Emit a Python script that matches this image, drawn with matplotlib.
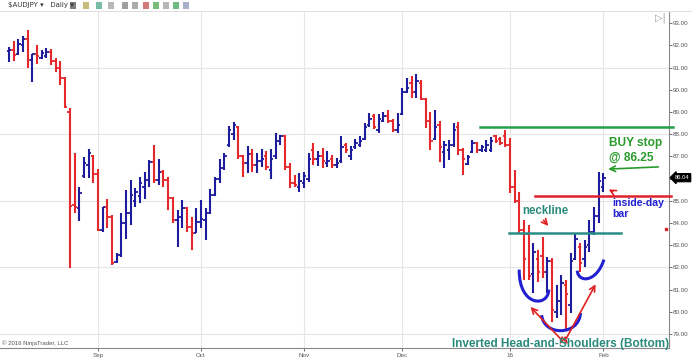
import matplotlib
matplotlib.use('Agg')
import matplotlib.pyplot as plt
from matplotlib.path import Path
from matplotlib.patches import PathPatch, Rectangle
from matplotlib.lines import Line2D

plt.rcParams['font.family'] = ['Liberation Sans', 'DejaVu Sans']

# daily AUDJPY bars, Aug 2015 - Feb 2016
opens = [91.75, 91.80, 91.60, 92.00, 92.30, 91.33, 91.60, 91.45, 91.50, 91.70,
         91.30, 91.00, 90.54, 88.98, 84.80, 84.66, 86.10, 86.60, 87.00, 86.20,
         83.70, 84.70, 84.25, 82.25, 82.56, 84.00, 84.46, 85.00, 85.20, 85.60,
         85.93, 86.76, 85.93, 86.31, 85.93, 85.11, 84.13, 84.28, 84.66, 83.83,
         83.56, 84.06, 84.13, 84.43, 85.26, 86.00, 86.46, 87.50, 88.00, 88.30,
         87.00, 86.70, 87.10, 86.60, 86.80, 87.00, 86.40, 87.00, 87.70, 87.90,
         86.50, 85.80, 85.60, 85.80, 86.00, 87.30, 86.90, 87.00, 86.70, 86.90,
         86.60, 86.80, 87.50, 87.00, 87.40, 87.50, 87.80, 88.40, 88.80, 88.20,
         88.60, 88.80, 88.60, 88.20, 88.90, 89.90, 90.30, 89.90, 90.30, 89.60,
         88.60, 87.80, 88.40, 87.20, 87.30, 87.50, 88.30, 87.30, 86.65, 87.20,
         87.60, 87.30, 87.30, 87.30, 87.90, 87.80, 87.90, 87.50, 85.60, 85.00,
         83.70, 83.50, 81.70, 82.40, 82.50, 81.80, 82.30, 80.00, 80.50, 81.20,
         80.30, 82.40, 82.90, 82.40, 83.00, 83.60, 84.30, 85.60]
highs = [91.93, 92.20, 92.28, 92.41, 92.68, 91.63, 92.00, 91.78, 91.86, 91.83,
         91.44, 91.29, 90.58, 89.16, 87.15, 85.63, 86.95, 87.31, 87.06, 86.41,
         84.73, 85.10, 84.36, 82.63, 84.43, 85.48, 85.93, 85.56, 86.08, 86.31,
         86.83, 87.51, 86.86, 86.38, 86.08, 85.18, 84.58, 85.03, 84.73, 84.28,
         84.66, 85.03, 84.66, 85.51, 86.08, 86.86, 87.16, 88.35, 88.56, 88.36,
         87.06, 87.46, 87.31, 87.16, 87.31, 87.25, 87.31, 88.06, 87.96, 87.95,
         86.68, 86.16, 86.23, 86.31, 87.16, 87.58, 87.25, 87.36, 87.25, 87.06,
         86.91, 87.91, 87.58, 87.46, 87.76, 87.91, 88.51, 88.96, 88.90, 88.90,
         89.00, 89.08, 88.66, 88.93, 90.06, 90.51, 90.62, 90.71, 90.44, 89.61,
         89.01, 89.08, 88.60, 87.70, 87.73, 88.48, 88.56, 87.36, 87.06, 87.73,
         87.66, 87.51, 87.73, 87.88, 87.96, 87.88, 88.18, 87.81, 86.38, 85.41,
         84.13, 83.90, 83.08, 82.78, 83.38, 82.48, 82.41, 81.21, 81.66, 81.43,
         82.63, 83.53, 83.08, 83.23, 84.13, 84.73, 86.31, 86.23]
lows = [91.26, 91.30, 91.56, 91.71, 90.96, 90.33, 91.14, 91.40, 91.44, 91.11,
        90.81, 90.21, 89.19, 81.95, 84.45, 84.10, 86.01, 86.01, 85.78, 83.65,
        83.60, 83.76, 82.10, 82.18, 82.48, 83.30, 83.90, 84.73, 84.88, 85.10,
        85.63, 85.78, 85.71, 85.63, 84.58, 83.98, 82.93, 83.76, 83.60, 82.78,
        83.53, 83.76, 83.23, 84.40, 85.20, 85.78, 86.38, 87.43, 87.74, 86.90,
        86.05, 86.26, 86.31, 86.26, 86.53, 86.38, 85.96, 86.90, 87.51, 86.38,
        85.56, 85.63, 85.41, 85.56, 85.86, 86.61, 86.56, 86.46, 86.53, 86.46,
        86.46, 86.68, 87.13, 86.83, 87.31, 87.40, 87.73, 88.33, 88.21, 88.03,
        88.56, 88.48, 88.11, 88.03, 88.86, 89.84, 89.61, 89.61, 89.54, 88.26,
        87.28, 87.73, 86.76, 86.46, 86.83, 87.40, 87.06, 86.16, 86.61, 87.13,
        87.13, 87.21, 87.21, 87.21, 87.58, 87.51, 87.43, 85.33, 84.88, 83.53,
        81.43, 81.43, 80.83, 81.36, 81.51, 80.83, 79.55, 79.70, 79.85, 79.18,
        79.93, 82.35, 81.81, 82.03, 82.71, 83.46, 83.98, 85.41]
closes = [91.80, 91.56, 92.08, 92.28, 91.33, 91.60, 91.50, 91.65, 91.70, 91.29,
          90.96, 90.54, 89.23, 84.75, 84.70, 85.36, 86.68, 87.13, 86.20, 83.68,
          84.70, 84.25, 82.18, 82.56, 84.01, 84.46, 85.26, 85.40, 85.78, 85.93,
          86.76, 85.93, 86.31, 85.93, 85.11, 84.13, 84.28, 84.66, 83.83, 83.56,
          84.06, 84.20, 84.43, 85.26, 86.00, 86.46, 87.00, 88.20, 88.40, 87.00,
          86.70, 87.10, 86.60, 86.80, 86.90, 86.50, 86.90, 87.70, 87.90, 86.50,
          85.80, 85.70, 85.90, 86.10, 86.90, 86.90, 87.00, 86.80, 86.80, 86.60,
          86.70, 87.40, 87.30, 87.30, 87.60, 87.70, 88.30, 88.70, 88.30, 88.70,
          88.80, 88.60, 88.20, 88.40, 89.90, 90.10, 89.90, 90.40, 89.60, 88.60,
          87.70, 88.30, 87.40, 87.50, 87.50, 88.20, 87.30, 86.90, 86.95, 87.60,
          87.30, 87.40, 87.50, 87.70, 87.70, 87.60, 87.50, 85.60, 85.00, 83.70,
          82.40, 81.60, 82.70, 81.80, 81.80, 82.30, 80.10, 80.50, 81.30, 80.80,
          82.30, 83.30, 82.20, 82.90, 83.60, 84.30, 85.90, 86.04]

month_labels = ['Sep', 'Oct', 'Nov', 'Dec', '16', 'Feb']
month_bars = [19, 41, 63, 84, 107, 127]
price_ticks = [79, 80, 81, 82, 83, 84, 85, 86, 87, 88, 89, 90, 91, 92, 93]
grid_prices = [79, 82, 85, 88, 91]

# levels drawn on the chart
buy_level = 88.3
inside_high = 85.22
neckline = 83.53
last_price = 86.04

UP = '#1c1c9c'
DOWN = '#e4282c'
TEAL = '#2a8a7c'
GREEN = '#2a9a2a'
BLUE = '#2020d0'

fig = plt.figure(figsize=(6.92, 3.61), dpi=100)
ax = fig.add_axes([0, 13 / 361, 669 / 692, 336 / 361])

# grid
for p in grid_prices:
    ax.axhline(p, color='#e6e6e6', lw=0.8, zorder=0)
for m in month_bars:
    ax.axvline(m, color='#e6e6e6', lw=0.8, zorder=0)

# OHLC bars
for i in range(len(opens)):
    c = UP if closes[i] >= opens[i] else DOWN
    ax.vlines(i, lows[i], highs[i], color=c, lw=1.5, zorder=3)
    ax.hlines(opens[i], i - 0.5, i, color=c, lw=1.3, zorder=3)
    ax.hlines(closes[i], i, i + 0.5, color=c, lw=1.3, zorder=3)

# horizontal levels
ax.plot([100.6, 141.8], [buy_level, buy_level], color='#24a04a', lw=1.8, clip_on=False, zorder=4)
ax.plot([112.4, 141.4], [inside_high, inside_high], color='#e0202a', lw=1.8, clip_on=False, zorder=4)
ax.plot([106.8, 130.8], [neckline, neckline], color='#2a8c86', lw=1.8, zorder=4)

# shoulders and head
def bezier(pts):
    path = Path(pts, [Path.MOVETO, Path.CURVE4, Path.CURVE4, Path.CURVE4])
    ax.add_patch(PathPatch(path, fc='none', ec=BLUE, lw=2.2, zorder=5))

bezier([(109.0, 81.9), (108.9, 80.2), (115.3, 80.2), (115.3, 81.0)])
bezier([(113.8, 79.85), (114.2, 78.9), (121.8, 78.9), (122.1, 79.95)])
bezier([(121.4, 81.85), (121.6, 81.3), (125.5, 81.3), (127.1, 82.35)])

arrow_red = dict(arrowstyle='->', color='#e02020', lw=1.2)
ax.annotate('', xy=(111.0, 80.31), xytext=(118.2, 78.7), arrowprops=arrow_red, zorder=6)
ax.annotate('', xy=(125.6, 81.35), xytext=(118.8, 78.7), arrowprops=arrow_red, zorder=6)
ax.annotate('', xy=(118.0, 79.05), xytext=(118.3, 78.7), arrowprops=dict(arrowstyle='->', color='#e02020', lw=1.0))
ax.annotate('', xy=(119.0, 79.05), xytext=(118.7, 78.7), arrowprops=dict(arrowstyle='->', color='#e02020', lw=1.0))
ax.annotate('', xy=(115.6, 83.77), xytext=(113.8, 84.22), arrowprops=arrow_red)
ax.annotate('', xy=(127.6, 85.57), xytext=(129.5, 85.35), arrowprops=arrow_red)
ax.annotate('', xy=(127.4, 86.42), xytext=(139.3, 86.53),
            arrowprops=dict(arrowstyle='->', color=GREEN, lw=1.2))

# labels
ax.text(109.6, 84.54, 'neckline', color=TEAL, fontsize=8.3, fontweight='bold', va='center')
ax.text(128.2, 87.26, 'BUY stop\n@ 86.25', color=GREEN, fontsize=8.6, fontweight='bold',
        va='center', linespacing=1.25)
ax.text(128.8, 84.66, 'inside-day\nbar', color=BLUE, fontsize=7.6, fontweight='bold',
        va='center', linespacing=1.05)
ax.text(94.7, 78.55, 'Inverted Head-and-Shoulders (Bottom)', color=TEAL, fontsize=8.5,
        fontweight='bold', va='center', zorder=7)
ax.plot([140.4], [83.73], marker='s', ms=1.5, color='#e02020', clip_on=False)

# last price tag
ax.annotate(f'{last_price:.2f}', xy=(1.0, last_price), xycoords=('axes fraction', 'data'),
            xytext=(4, 0), textcoords='offset points', fontsize=4.2, color='white',
            va='center', ha='left', annotation_clip=False,
            bbox=dict(boxstyle='larrow,pad=0.25', fc='black', ec='black'))

ax.set_xlim(-1.92, 141.0)
ax.set_ylim(78.37, 93.5)

ax.yaxis.tick_right()
ax.set_yticks(price_ticks)
ax.set_yticklabels([f'{p:.2f}' for p in price_ticks])
ax.set_xticks(month_bars)
ax.set_xticklabels(month_labels)
ax.tick_params(axis='y', labelsize=4.5, colors='#555555', length=2, pad=1, width=0.6)
ax.tick_params(axis='x', labelsize=4.5, colors='#555555', length=2, pad=1.5, width=0.6)
for s in ['left', 'top']:
    ax.spines[s].set_visible(False)
for s in ['right', 'bottom']:
    ax.spines[s].set_color('#888888')
    ax.spines[s].set_linewidth(0.8)

# toolbar strip and footer
fig.add_artist(Line2D([0, 1], [1 - 11 / 361, 1 - 11 / 361], color='#d8d8d8', lw=0.6))
fig.text(8 / 692, 1 - 5 / 361, '$AUDJPY \u25be   Daily \u25be', fontsize=5, color='#333333',
         va='center', family='DejaVu Sans')
icon_colors = ['#444444', '#b0a040', '#40a080', '#999999', '#777777', '#888888',
               '#c04040', '#40a040', '#999999', '#30a050', '#8090b0']
icon_x = [70, 83, 96, 108, 122, 132, 143, 153, 163, 173, 183]
for cx, col in zip(icon_x, icon_colors):
    fig.add_artist(Rectangle((cx / 692, 1 - 9 / 361), 6 / 692, 7 / 361, fc=col, ec='none', alpha=0.7))
fig.text(2 / 692, 1 - 343 / 361, '\u00a9 2016 NinjaTrader, LLC', fontsize=4.3, color='#555555', va='center')
fig.text(660 / 692, 1 - 18 / 361, '\u25b7|', fontsize=7, color='#999999', ha='center', va='center',
         family='DejaVu Sans')

fig.savefig('out.png', dpi=100, facecolor='white')
